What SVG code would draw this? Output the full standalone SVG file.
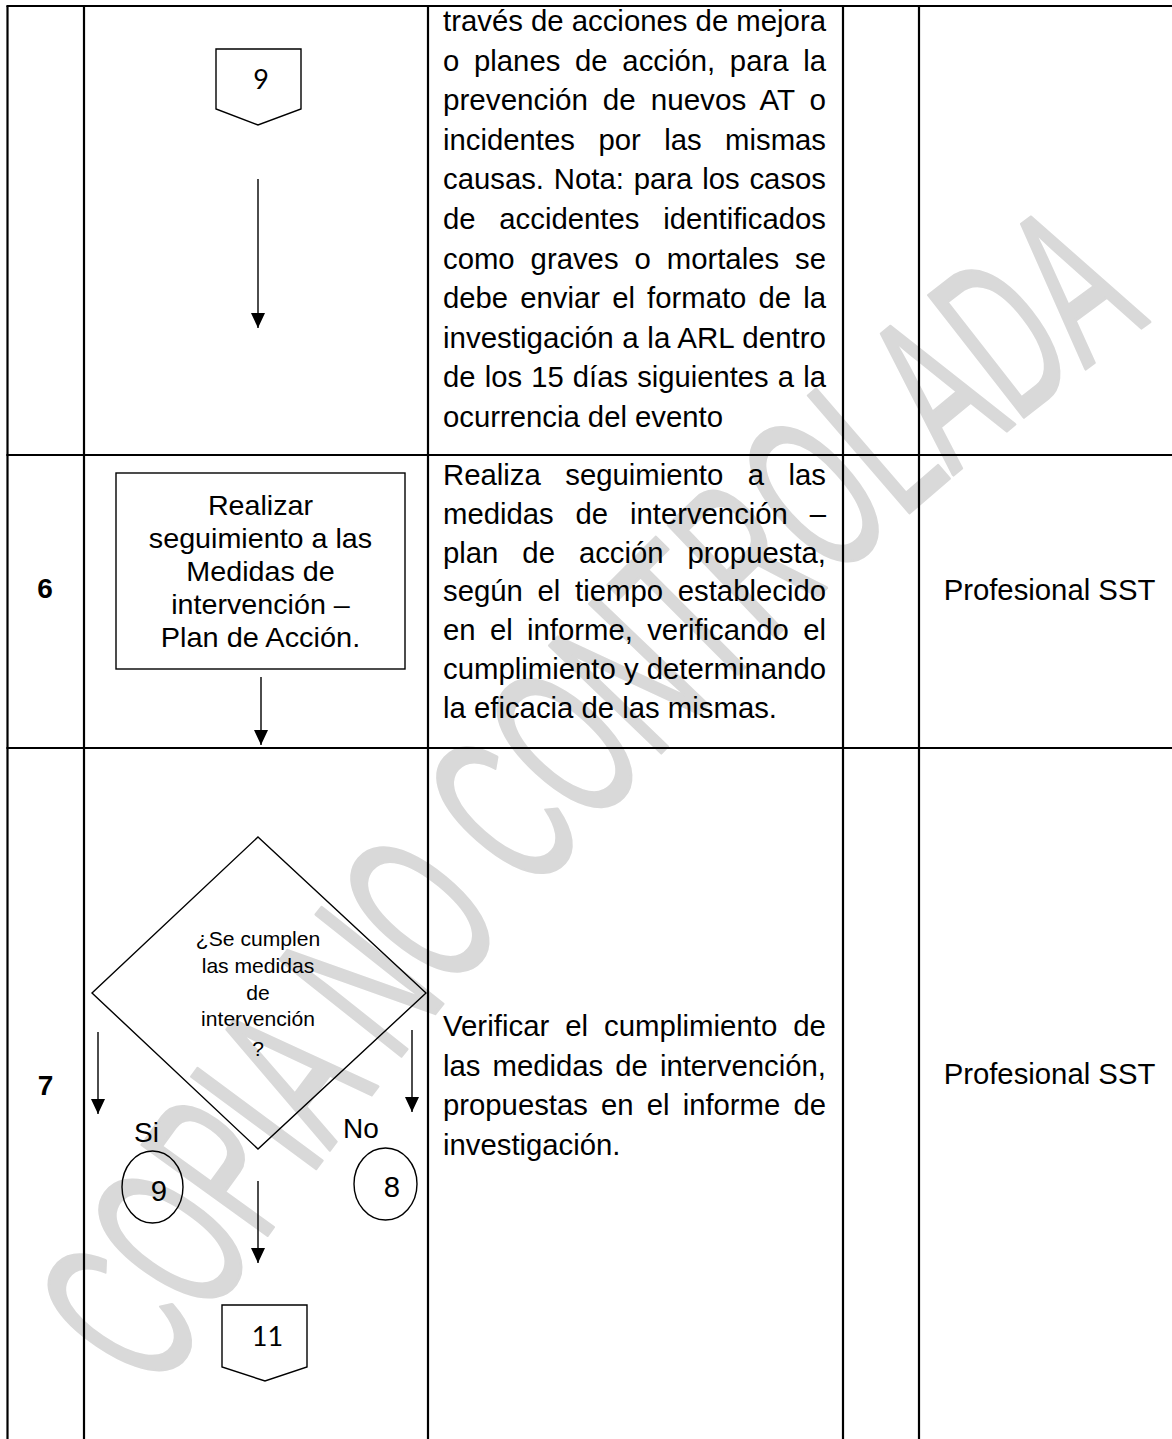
<svg xmlns="http://www.w3.org/2000/svg" width="1172" height="1439" viewBox="0 0 1172 1439">
<style>
.t{font-family:"Liberation Sans",Arial,sans-serif;fill:#000}
.d{font-size:29.3px}
.bx{font-size:28.5px}
.dm{font-size:21px}
.lb{font-size:28px}
.b{font-weight:bold}
.pg{font-family:Lato,"Liberation Sans",sans-serif;font-size:27px;fill:#000}
.grid{stroke:#000;stroke-width:2.2;fill:none}
.shp{stroke:#000;stroke-width:1.4;fill:none}
.con{stroke:#000;stroke-width:1.4;fill:none}
.wm{font-family:"Liberation Sans",Arial,sans-serif;font-size:225px;fill:#d9d9d9;stroke:#d9d9d9;stroke-width:3;stroke-linejoin:round}
</style>
<defs>
<marker id="ah" markerUnits="userSpaceOnUse" markerWidth="15" markerHeight="14" refX="15" refY="7" orient="auto">
<path d="M0,0 L15,7 L0,14 Z" fill="#000"/>
</marker>
<path id="wmpath" d="M158,1395 Q615,705 1150,322"/>
</defs>
<rect width="1172" height="1439" fill="#fff"/>
<g id="watermark">
<text class="wm"><textPath href="#wmpath" textLength="1470" lengthAdjust="spacingAndGlyphs">COPIA NO CONTROLADA</textPath></text>
</g>
<g id="table">
<line class="grid" x1="7.5" y1="6" x2="7.5" y2="1439"/>
<line class="grid" x1="84" y1="6" x2="84" y2="1439"/>
<line class="grid" x1="428" y1="6" x2="428" y2="1439"/>
<line class="grid" x1="843" y1="6" x2="843" y2="1439"/>
<line class="grid" x1="919" y1="6" x2="919" y2="1439"/>
<line class="grid" x1="6.4" y1="6" x2="1172" y2="6"/>
<line class="grid" x1="6.4" y1="455" x2="1172" y2="455"/>
<line class="grid" x1="6.4" y1="748" x2="1172" y2="748"/>
</g>
<g id="desc1" class="t d">
<text x="443" y="31" textLength="383" lengthAdjust="spacingAndGlyphs">través de acciones de mejora</text>
<text x="443" y="70.6" textLength="383" lengthAdjust="spacingAndGlyphs" style="word-spacing:6.6px">o planes de acción, para la</text>
<text x="443" y="110.2" textLength="383" lengthAdjust="spacingAndGlyphs" style="word-spacing:6.6px">prevención de nuevos AT o</text>
<text x="443" y="149.8" textLength="383" lengthAdjust="spacingAndGlyphs" style="word-spacing:15.3px">incidentes por las mismas</text>
<text x="443" y="189.4" textLength="383" lengthAdjust="spacingAndGlyphs" style="word-spacing:1.7px">causas. Nota: para los casos</text>
<text x="443" y="229" textLength="383" lengthAdjust="spacingAndGlyphs" style="word-spacing:15.6px">de accidentes identificados</text>
<text x="443" y="268.6" textLength="383" lengthAdjust="spacingAndGlyphs" style="word-spacing:7.8px">como graves o mortales se</text>
<text x="443" y="308.2" textLength="383" lengthAdjust="spacingAndGlyphs" style="word-spacing:4px">debe enviar el formato de la</text>
<text x="443" y="347.8" textLength="383" lengthAdjust="spacingAndGlyphs" style="word-spacing:0.5px">investigación a la ARL dentro</text>
<text x="443" y="387.4" textLength="383" lengthAdjust="spacingAndGlyphs" style="word-spacing:1.1px">de los 15 días siguientes a la</text>
<text x="443" y="427" textLength="280" lengthAdjust="spacingAndGlyphs">ocurrencia del evento</text>
</g>
<g id="desc2" class="t d">
<text x="443" y="485" textLength="383" lengthAdjust="spacingAndGlyphs" style="word-spacing:16.4px">Realiza seguimiento a las</text>
<text x="443" y="523.8" textLength="383" lengthAdjust="spacingAndGlyphs" style="word-spacing:13.7px">medidas de intervención –</text>
<text x="443" y="562.6" textLength="383" lengthAdjust="spacingAndGlyphs" style="word-spacing:15.8px">plan de acción propuesta,</text>
<text x="443" y="601.4" textLength="383" lengthAdjust="spacingAndGlyphs" style="word-spacing:6.6px">según el tiempo establecido</text>
<text x="443" y="640.2" textLength="383" lengthAdjust="spacingAndGlyphs" style="word-spacing:6.2px">en el informe, verificando el</text>
<text x="443" y="679" textLength="383" lengthAdjust="spacingAndGlyphs">cumplimiento y determinando</text>
<text x="443" y="717.8" textLength="334" lengthAdjust="spacingAndGlyphs">la eficacia de las mismas.</text>
</g>
<g id="desc3" class="t d">
<text x="443" y="1036" textLength="383" lengthAdjust="spacingAndGlyphs" style="word-spacing:7.7px">Verificar el cumplimiento de</text>
<text x="443" y="1075.5" textLength="383" lengthAdjust="spacingAndGlyphs" style="word-spacing:3.9px">las medidas de intervención,</text>
<text x="443" y="1115" textLength="383" lengthAdjust="spacingAndGlyphs" style="word-spacing:5px">propuestas en el informe de</text>
<text x="443" y="1154.5" textLength="177.5" lengthAdjust="spacingAndGlyphs">investigación.</text>
</g>
<g id="step6" class="t lb b"><text x="45" y="598" text-anchor="middle">6</text></g>
<g id="step7" class="t lb b"><text x="45.5" y="1095" text-anchor="middle">7</text></g>
<g id="resp6" class="t d"><text x="1049.5" y="600" text-anchor="middle" textLength="211.7" lengthAdjust="spacingAndGlyphs">Profesional SST</text></g>
<g id="resp7" class="t d"><text x="1049.5" y="1084" text-anchor="middle" textLength="211.7" lengthAdjust="spacingAndGlyphs">Profesional SST</text></g>
<g id="conn9top">
<path class="shp" d="M216,49 H301 V109 L258,125 L216,109 Z"/>
<text class="pg" x="261" y="89" text-anchor="middle">9</text>
</g>
<g id="box6">
<rect class="shp" x="116" y="473" width="289" height="196"/>
<g class="t bx" text-anchor="middle">
<text x="260.5" y="515.4" textLength="105.2" lengthAdjust="spacingAndGlyphs">Realizar</text>
<text x="260.5" y="548.2" textLength="223.3" lengthAdjust="spacingAndGlyphs">seguimiento a las</text>
<text x="260.5" y="581" textLength="148.4" lengthAdjust="spacingAndGlyphs">Medidas de</text>
<text x="260.5" y="613.8" textLength="178.7" lengthAdjust="spacingAndGlyphs">intervención –</text>
<text x="260.5" y="646.6" textLength="199.4" lengthAdjust="spacingAndGlyphs">Plan de Acción.</text>
</g>
</g>
<g id="decision7">
<path class="shp" d="M258,837 L426,993 L258,1149 L92,993 Z"/>
<g class="t dm" text-anchor="middle">
<text x="258" y="946" textLength="124.3" lengthAdjust="spacingAndGlyphs">¿Se cumplen</text>
<text x="258" y="973" textLength="112.6" lengthAdjust="spacingAndGlyphs">las medidas</text>
<text x="258" y="999.5" textLength="23.5" lengthAdjust="spacingAndGlyphs">de</text>
<text x="258" y="1026" textLength="113.8" lengthAdjust="spacingAndGlyphs">intervención</text>
<text x="258" y="1056">?</text>
</g>
</g>
<g id="labelSi" class="t lb"><text x="134" y="1142">Si</text></g>
<g id="labelNo" class="t lb"><text x="343" y="1138">No</text></g>
<g id="circle9">
<ellipse class="shp" cx="152.5" cy="1187" rx="30.5" ry="36"/>
<text class="t d" x="159" y="1201" text-anchor="middle">9</text>
</g>
<g id="circle8">
<ellipse class="shp" cx="385.5" cy="1184" rx="31.5" ry="36"/>
<text class="t d" x="392" y="1197" text-anchor="middle">8</text>
</g>
<g id="conn11">
<path class="shp" d="M222,1305 H307 V1367 L265,1381 L222,1367 Z"/>
<text class="pg" x="267.5" y="1346" text-anchor="middle">11</text>
</g>
<g id="connectors">
<line class="con" x1="258" y1="179" x2="258" y2="328" marker-end="url(#ah)"/>
<line class="con" x1="261" y1="677" x2="261" y2="745" marker-end="url(#ah)"/>
<line class="con" x1="98" y1="1032" x2="98" y2="1114" marker-end="url(#ah)"/>
<line class="con" x1="412" y1="1030" x2="412" y2="1112" marker-end="url(#ah)"/>
<line class="con" x1="258" y1="1181" x2="258" y2="1263" marker-end="url(#ah)"/>
</g>
</svg>
